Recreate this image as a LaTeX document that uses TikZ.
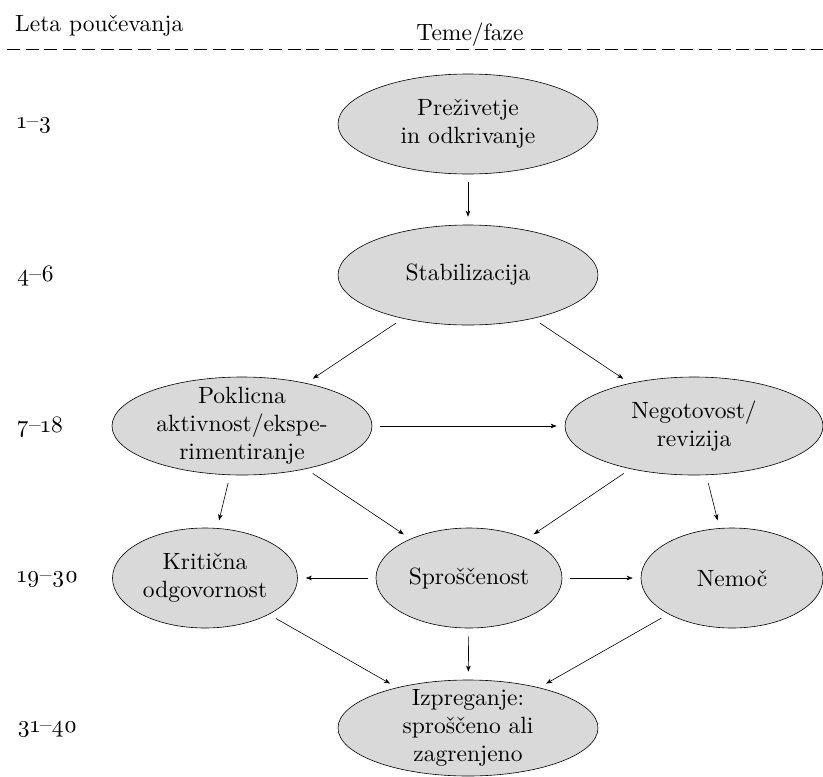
\documentclass[tikz,border=0pt]{standalone}
\usepackage{fontspec}
\setmainfont{lmroman10-regular}[Extension=.otf,Numbers=OldStyle]
\usetikzlibrary{shapes.geometric,arrows.meta}
\definecolor{ellgray}{HTML}{D9D9D9}
\begin{document}
\begin{tikzpicture}[x=1pt,y=-1pt,
  ell/.style={ellipse,draw=black,line width=0.6pt,fill=ellgray,inner sep=0pt},
  ttxt/.style={align=center,inner sep=0pt,font=\fontsize{23.5}{28}\selectfont},
  lbl/.style={anchor=west,inner sep=0pt,font=\fontsize{23.5}{28}\selectfont},
  hdr/.style={anchor=base,inner sep=0pt,font=\fontsize{23.5}{28}\selectfont},
  arr/.style={-{Stealth[length=6pt,width=4.5pt,inset=1.5pt]},line width=0.6pt,shorten <=8pt,shorten >=8pt}]
\useasboundingbox (0,0) rectangle (823,777);

% header
\node[hdr,anchor=base west] (hleft) at (15,31) {Leta poučevanja};
\node[hdr] (hright) at (470,40) {Teme/faze};
\coordinate (dl) at (7,49);
\coordinate (dr) at (823,49);
\draw[line width=0.6pt,dash pattern=on 13pt off 5.7pt] (dl) -- (dr);

% year labels
\node[lbl] (y1) at (17,125) {1–3};
\node[lbl] (y2) at (17,276) {4–6};
\node[lbl] (y3) at (17,427) {7–18};
\node[lbl] (y4) at (17,579) {19–30};
\node[lbl] (y5) at (17,729) {31–40};

% ellipses
\node[ell,minimum width=260pt,minimum height=100pt] (e1) at (468,124) {};
\node[ttxt] (t1) at (e1.center) {Preživetje\\in odkrivanje};
\node[ell,minimum width=260pt,minimum height=100pt] (e2) at (468,275) {};
\node[ttxt] (t2) at (e2.center) {Stabilizacija};
\node[ell,minimum width=260pt,minimum height=98pt] (e3) at (242,426) {};
\node[ttxt] (t3) at (e3.center) {Poklicna\\aktivnost/ekspe-\\rimentiranje};
\node[ell,minimum width=258pt,minimum height=98pt] (e4) at (694,426) {};
\node[ttxt] (t4) at (e4.center) {Negotovost/\\revizija};
\node[ell,minimum width=185pt,minimum height=100pt] (e5) at (205,578) {};
\node[ttxt] (t5) at (e5.center) {Kritična\\odgovornost};
\node[ell,minimum width=186pt,minimum height=100pt] (e6) at (469,578) {};
\node[ttxt] (t6) at (e6.center) {Sproščenost};
\node[ell,minimum width=182pt,minimum height=100pt] (e7) at (732,578) {};
\node[ttxt] (t7) at (e7.center) {Nemoč};
\node[ell,minimum width=260pt,minimum height=96pt] (e8) at (468,728) {};
\node[ttxt] (t8) at (e8.center) {Izpreganje:\\sproščeno ali\\zagrenjeno};

% connectors
\draw[arr] (e1) -- (e2);
\draw[arr] (e2) -- (e3);
\draw[arr] (e2) -- (e4);
\draw[arr] (e3) -- (e4);
\draw[arr] (e3) -- (e5);
\draw[arr] (e3) -- (e6);
\draw[arr] (e4) -- (e6);
\draw[arr] (e4) -- (e7);
\draw[arr] (e6) -- (e5);
\draw[arr] (e6) -- (e7);
\draw[arr] (e5) -- (e8);
\draw[arr] (e6) -- (e8);
\draw[arr] (e7) -- (e8);
\end{tikzpicture}
\end{document}
